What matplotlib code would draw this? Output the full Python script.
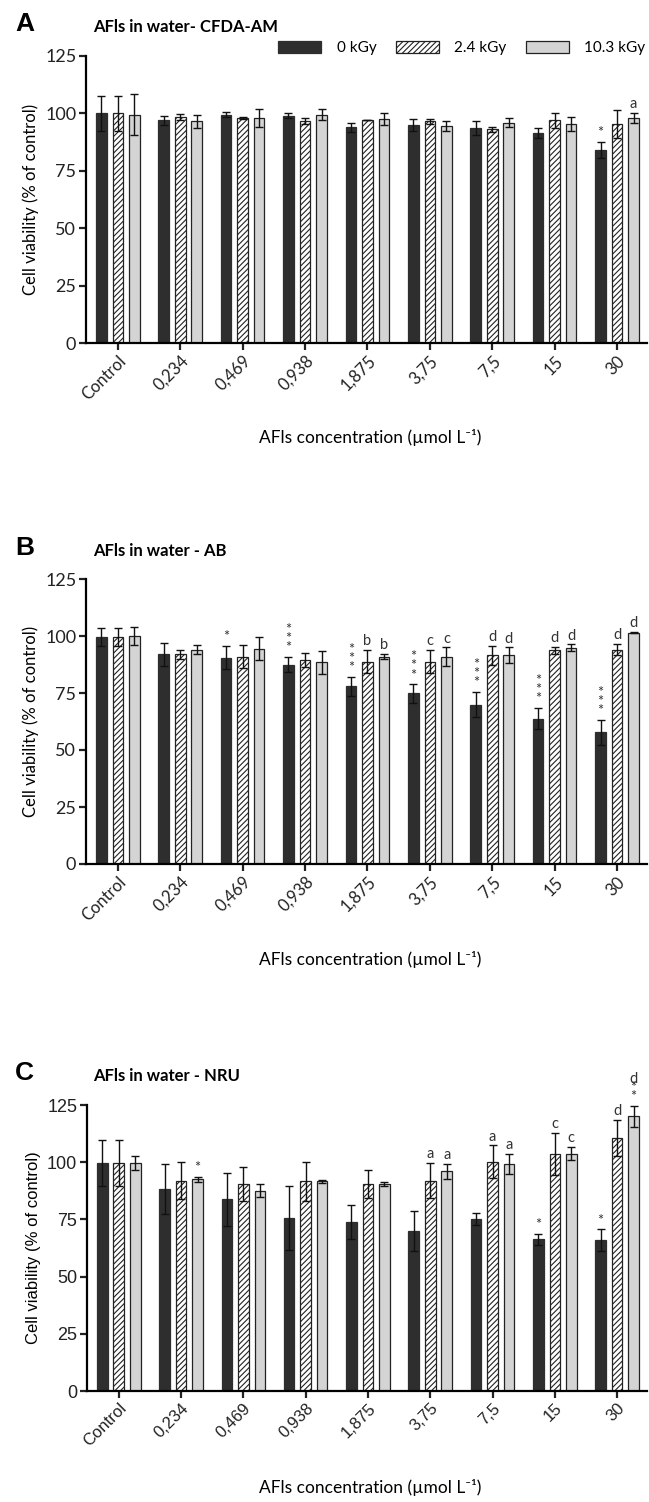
import matplotlib
matplotlib.use("Agg")
import matplotlib.pyplot as plt
import numpy as np

labels = ['Control', '0,234', '0,469', '0,938', '1,875', '3,75', '7,5', '15', '30']
series = ['0 kGy', '2.4 kGy', '10.3 kGy']

# panel A - CFDA-AM
a_0 = [100, 97, 99.5, 99, 94, 95, 93.5, 91.5, 84]
a_0_err = [7.5, 2, 1, 1, 2, 2.5, 3, 2, 3.5]
a_24 = [100, 98.5, 98, 96.5, 97, 96.5, 93, 97, 95.5]
a_24_err = [7.5, 1.2, 0.5, 1.3, 0, 1, 1, 3.2, 6]
a_103 = [99.5, 96.5, 98, 99.5, 97.5, 94.5, 96, 95.5, 98]
a_103_err = [9, 3, 4, 2.2, 2.5, 2, 2, 3, 2.3]
a_ann = [['', '', '', '', '', '', '', '', '*'],
         ['', '', '', '', '', '', '', '', ''],
         ['', '', '', '', '', '', '', '', 'a']]

# panel B - AB
b_0 = [99.5, 92, 90.5, 87.5, 78, 74.8, 69.8, 63.8, 57.8]
b_0_err = [4, 5, 5, 3.5, 4.2, 4, 5.5, 4.8, 5.5]
b_24 = [99.5, 92, 91, 89.5, 88.8, 88.8, 91.5, 93.8, 94]
b_24_err = [4, 2, 5, 3, 5.2, 5.2, 4, 1.5, 2.5]
b_103 = [100, 94, 94.5, 88.5, 91, 91, 91.5, 94.8, 101.5]
b_103_err = [4, 2, 5, 5, 1, 4, 3.5, 1.5, 0.3]
b_ann = [['', '', '*', '***', '***', '***', '***', '***', '***'],
         ['', '', '', '', 'b', 'c', 'd', 'd', 'd'],
         ['', '', '', '', 'b', 'c', 'd', 'd', 'd']]

# panel C - NRU
c_0 = [99.7, 88.3, 83.7, 75.7, 73.8, 69.8, 75.1, 66.3, 65.8]
c_0_err = [10, 11, 11.5, 14, 7.3, 8.8, 2.6, 2.4, 4.8]
c_24 = [99.7, 92, 90.5, 91.6, 90.5, 92, 100.3, 103.7, 110.5]
c_24_err = [10, 8.3, 7.3, 8.5, 6, 7.6, 7, 9.2, 8]
c_103 = [99.7, 92.5, 87.6, 91.6, 90.5, 96, 99.3, 103.7, 120]
c_103_err = [3, 1, 3, 0.5, 1, 3.2, 4.4, 2.9, 4.5]
c_ann = [['', '', '', '', '', '', '', '*', '*'],
         ['', '', '', '', '', 'a', 'a', 'c', 'd'],
         ['', '*', '', '', '', 'a', 'a', 'c', '**d']]

W, H = 649, 1502
plt.rcParams['hatch.linewidth'] = 0.8
plt.rcParams['font.family'] = ['Lato', 'DejaVu Sans']

fig = plt.figure(figsize=(W / 100, H / 100), dpi=100)


def fy(y):
    return 1 - y / H


def draw_panel(rect, vals, errs, anns, tickfont):
    left, right, top, bottom = rect
    ax = fig.add_axes([left / W, fy(bottom), (right - left) / W, (bottom - top) / H])
    x = np.arange(len(labels))
    offs = [-0.265, 0, 0.265]
    styles = [dict(color='#2e2e2e', edgecolor='#2e2e2e'),
              dict(color='white', edgecolor='#222222', hatch='//////'),
              dict(color='#d4d4d4', edgecolor='#222222')]
    for k in range(3):
        ax.bar(x + offs[k], vals[k], 0.17, linewidth=0.9, label=series[k], **styles[k])
        ax.errorbar(x + offs[k], vals[k], yerr=errs[k], fmt='none', ecolor='#111111',
                    elinewidth=1, capsize=3, capthick=1)
        for i in range(len(labels)):
            a = anns[k][i]
            if not a:
                continue
            top_v = vals[k][i] + errs[k][i]
            nstar = a.count('*')
            letter = a.replace('*', '')
            # one text per mark: letter on top, stars stacked below
            lines = ([letter] if letter else []) + ['*'] * nstar
            txt = '\n'.join(lines)
            ax.text(x[i] + offs[k], top_v + 0.8, txt, ha='center', va='bottom',
                    fontsize=10.5, linespacing=0.55 if not letter or nstar else 1.0,
                    color='#333333', clip_on=False)
    ax.set_ylim(0, 125)
    ax.set_xlim(-0.51, 8.48)
    ax.set_yticks([0, 25, 50, 75, 100, 125])
    ax.set_xticks(x)
    ax.set_xticklabels(labels, rotation=45, ha='right', rotation_mode='anchor',
                       fontsize=12, family=tickfont)
    for t in ax.get_yticklabels():
        t.set_fontsize(13)
        t.set_family(tickfont)
    ax.spines['top'].set_visible(False)
    ax.spines['right'].set_visible(False)
    ax.spines['left'].set_linewidth(1.6)
    ax.spines['bottom'].set_linewidth(1.6)
    ax.tick_params(direction='out', length=5, width=1.6, pad=2, colors='#222222')
    ax.set_ylabel('Cell viability (% of control)', fontsize=12, family=tickfont, labelpad=4)
    return ax


def labels_for(letter, title, ytitle, xlab_y):
    fig.text(15 / W, fy(ytitle - 3), letter, fontsize=19, fontweight='bold',
             family=['Liberation Sans', 'DejaVu Sans'], va='center', ha='left')
    fig.text(93 / W, fy(ytitle), title, fontsize=12, fontweight='bold', va='center', ha='left')
    fig.text(370 / W, fy(xlab_y), 'AFls concentration (\u00b5mol L\u207b\u00b9)',
             fontsize=12.5, va='center', ha='center')


axA = draw_panel((86, 647, 56, 343), [a_0, a_24, a_103], [a_0_err, a_24_err, a_103_err],
                 a_ann, ['Lato', 'DejaVu Sans'])
labels_for('A', 'AFls in water- CFDA-AM', 27, 438)
axA.legend(loc='center', bbox_to_anchor=(462 / W, fy(48)), bbox_transform=fig.transFigure,
           ncol=3, frameon=False, fontsize=11, handlelength=2.8, handleheight=0.9,
           columnspacing=1.3, handletextpad=1.0)

axB = draw_panel((86, 647, 579, 864), [b_0, b_24, b_103], [b_0_err, b_24_err, b_103_err],
                 b_ann, ['Lato', 'DejaVu Sans'])
labels_for('B', 'AFls in water - AB', 551, 960)

axC = draw_panel((87, 647, 1105, 1391), [c_0, c_24, c_103], [c_0_err, c_24_err, c_103_err],
                 c_ann, ['Liberation Sans', 'DejaVu Sans'])
labels_for('C', 'AFls in water - NRU', 1076, 1488)

fig.savefig('out.png', dpi=100)
